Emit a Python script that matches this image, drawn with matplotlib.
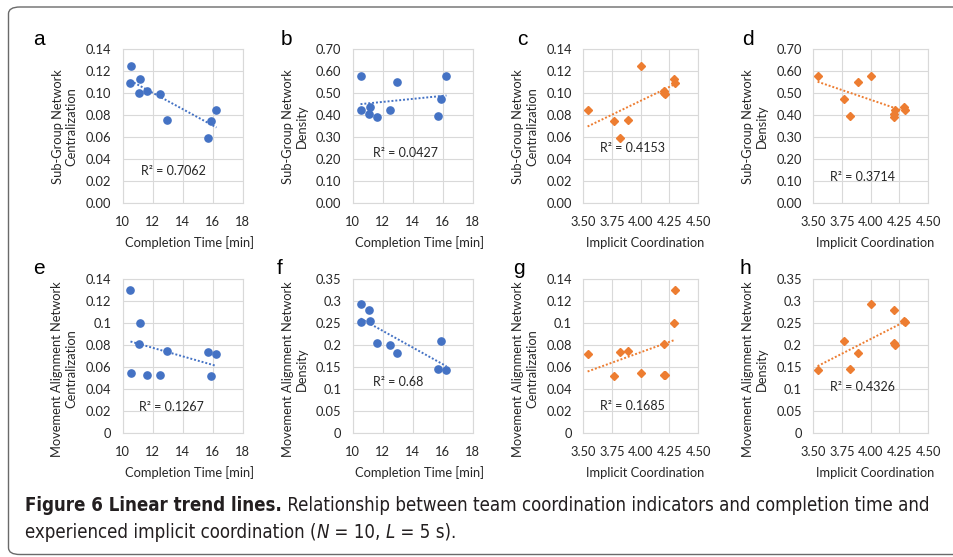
import numpy as np
import matplotlib
matplotlib.use("Agg")
import matplotlib.pyplot as plt
from matplotlib import font_manager
from matplotlib.font_manager import FontProperties
from matplotlib.patches import FancyBboxPatch

W, H = 954, 557

# one value per team, same order in every list
completion_time = [10.52, 10.58, 11.10, 11.18, 11.60, 12.50, 12.95, 15.72, 15.90, 16.25]
implicit_coord = [4.30, 4.00, 4.20, 4.29, 4.20, 4.21, 3.89, 3.82, 3.77, 3.54]
sg_centralization = [0.109, 0.125, 0.100, 0.113, 0.102, 0.099, 0.076, 0.059, 0.075, 0.085]
sg_density = [0.423, 0.580, 0.405, 0.439, 0.393, 0.424, 0.550, 0.397, 0.476, 0.579]
ma_centralization = [0.130, 0.055, 0.081, 0.100, 0.053, 0.053, 0.075, 0.074, 0.052, 0.072]
ma_density = [0.252, 0.295, 0.281, 0.255, 0.206, 0.201, 0.183, 0.145, 0.210, 0.144]

r2_labels = ["R² = 0.7062", "R² = 0.0427", "R² = 0.4153", "R² = 0.3714",
             "R² = 0.1267", "R² = 0.68", "R² = 0.1685", "R² = 0.4326"]

time_ticks = [10, 12, 14, 16, 18]
coord_ticks = [3.50, 3.75, 4.00, 4.25, 4.50]
cent_ticks = [0.00, 0.02, 0.04, 0.06, 0.08, 0.10, 0.12, 0.14]
dens_ticks = [0.00, 0.10, 0.20, 0.30, 0.40, 0.50, 0.60, 0.70]
ma_dens_ticks = [0, 0.05, 0.1, 0.15, 0.2, 0.25, 0.3, 0.35]

BLUE = "#4472C4"
ORANGE = "#ED7D31"
GRID = "#D9D9D9"
TXT = "#262626"
CAP = "#231f20"


def pick_font(names):
    have = {f.name for f in font_manager.fontManager.ttflist}
    for n in names:
        if n in have:
            return n
    return "DejaVu Sans"


def caption_props():
    # prefer a narrow face for the caption, the printed one is condensed
    files = {f.fname.split("/")[-1]: f.fname for f in font_manager.fontManager.ttflist}
    sets = [("LiberationSansNarrow-Regular.ttf", "LiberationSansNarrow-Bold.ttf",
             "LiberationSansNarrow-Italic.ttf"),
            ("DejaVuSansCondensed.ttf", "DejaVuSansCondensed-Bold.ttf",
             "DejaVuSansCondensed-Oblique.ttf")]
    for reg, bld, ita in sets:
        if reg in files and bld in files:
            it = FontProperties(fname=files[ita]) if ita in files else FontProperties(fname=files[reg])
            return FontProperties(fname=files[reg]), FontProperties(fname=files[bld]), it
    fam = pick_font(["Open Sans", "DejaVu Sans"])
    return (FontProperties(family=fam), FontProperties(family=fam, weight="bold"),
            FontProperties(family=fam, style="italic"))


chart_font = pick_font(["Lato", "Open Sans"])
plt.rcParams["font.family"] = [chart_font, "DejaVu Sans"]


def px_rect(l, t, r, b):
    return [l / W, 1 - b / H, (r - l) / W, (b - t) / H]


def draw_panel(fig, rect, x, y, xticks, xfmt, yticks, yfmt, ylabel, ylab_x, ylab_y,
               xlabel, xlab_x, r2, r2_pos, color, marker):
    ax = fig.add_axes(rect)
    x = np.array(x)
    y = np.array(y)
    if marker == "o":
        ax.plot(x, y, "o", color=color, markersize=5.2, zorder=3)
    else:
        ax.plot(x, y, "D", color=color, markersize=4.4, zorder=3)
    k, b = np.polyfit(x, y, 1)
    xs = np.array([x.min(), x.max()])
    ax.plot(xs, k * xs + b, color=color, lw=1.4, linestyle=(0, (1, 1)), zorder=2)

    ax.set_xlim(xticks[0], xticks[-1])
    ax.set_ylim(yticks[0], yticks[-1])
    ax.set_xticks(xticks)
    ax.set_xticklabels([xfmt(v) for v in xticks])
    ax.set_yticks(yticks)
    ax.set_yticklabels([yfmt(v) for v in yticks])
    ax.tick_params(length=0, labelsize=9.3, labelcolor=TXT)
    ax.tick_params(axis="y", pad=8)
    ax.tick_params(axis="x", pad=9)
    ax.grid(True, color=GRID, lw=0.8)
    ax.set_axisbelow(True)
    for s in ax.spines.values():
        s.set_color(GRID)
        s.set_linewidth(0.8)

    ax.text(ylab_x, ylab_y, ylabel, transform=ax.transAxes, rotation=90,
            ha="center", va="center", multialignment="center", fontsize=9.3,
            color=TXT, linespacing=1.2)
    ax.text(xlab_x, -0.255, xlabel, transform=ax.transAxes, ha="center", va="center",
            fontsize=9.3, color=TXT)
    ax.text(r2_pos[0], r2_pos[1], r2, transform=ax.transAxes, ha="center", va="center",
            fontsize=9, color=TXT)
    return ax


def fmt2(v):
    return f"{v:.2f}"


def fmt_time(v):
    return f"{v:d}"


def fmt_gen(v):
    return f"{v:g}"


def text_run(fig, r, x0, y, pieces, size):
    # lay out pieces of text one after another on a baseline, in pixels
    x = x0
    out = []
    for s, fp in pieces:
        t = fig.text(x / W, 1 - y / H, s, fontproperties=fp, va="baseline", color=CAP)
        t.set_fontsize(size)
        x = t.get_window_extent(r).x1
        out.append(t)
    return x, out


def main():
    fig = plt.figure(figsize=(W / 100, H / 100), dpi=100)

    # rounded frame around the figure, running off the right edge
    frame = FancyBboxPatch((8.5 / W, 2.5 / H), (W + 20) / W, (H - 9.5) / H,
                           boxstyle="round,pad=0,rounding_size=0.012",
                           transform=fig.transFigure, fill=False,
                           edgecolor="#6a6a6a", lw=1.0)
    fig.patches.append(frame)

    top = (49.3, 203.3)
    bot = (279.3, 433.3)
    cols = [(122.7, 242.7), (352.7, 472.7), (583.0, 698.3), (813.0, 928.3)]

    sg_c = "Sub-Group Network\nCentralization"
    sg_d = "Sub-Group Network\nDensity"
    ma_c = "Movement Alignment Network\nCentralization"
    ma_d = "Movement Alignment Network\nDensity"
    t_lab = "Completion Time [min]"
    c_lab = "Implicit Coordination"

    panels = [
        (cols[0], top, completion_time, sg_centralization, time_ticks, fmt_time, cent_ticks, fmt2,
         sg_c, -0.485, 0.5, t_lab, 0.56, r2_labels[0], (0.42, 0.21), BLUE, "o"),
        (cols[1], top, completion_time, sg_density, time_ticks, fmt_time, dens_ticks, fmt2,
         sg_d, -0.485, 0.5, t_lab, 0.56, r2_labels[1], (0.44, 0.325), BLUE, "o"),
        (cols[2], top, implicit_coord, sg_centralization, coord_ticks, fmt2, cent_ticks, fmt2,
         sg_c, -0.503, 0.5, c_lab, 0.535, r2_labels[2], (0.43, 0.357), ORANGE, "D"),
        (cols[3], top, implicit_coord, sg_density, coord_ticks, fmt2, dens_ticks, fmt2,
         sg_d, -0.50, 0.5, c_lab, 0.535, r2_labels[3], (0.43, 0.173), ORANGE, "D"),
        (cols[0], bot, completion_time, ma_centralization, time_ticks, fmt_time, cent_ticks, fmt_gen,
         ma_c, -0.485, 0.417, t_lab, 0.56, r2_labels[4], (0.41, 0.173), BLUE, "o"),
        (cols[1], bot, completion_time, ma_density, time_ticks, fmt_time, ma_dens_ticks, fmt_gen,
         ma_d, -0.485, 0.417, t_lab, 0.56, r2_labels[5], (0.38, 0.33), BLUE, "o"),
        (cols[2], bot, implicit_coord, ma_centralization, coord_ticks, fmt2, cent_ticks, fmt_gen,
         ma_c, -0.503, 0.417, c_lab, 0.535, r2_labels[6], (0.43, 0.177), ORANGE, "D"),
        (cols[3], bot, implicit_coord, ma_density, coord_ticks, fmt2, ma_dens_ticks, fmt_gen,
         ma_d, -0.50, 0.417, c_lab, 0.535, r2_labels[7], (0.43, 0.30), ORANGE, "D"),
    ]
    for (lr, tb, x, y, xt, xf, yt, yf, yl, ylx, yly, xl, xlx, r2, r2p, col, mk) in panels:
        draw_panel(fig, px_rect(lr[0], tb[0], lr[1], tb[1]), x, y, xt, xf, yt, yf,
                   yl, ylx, yly, xl, xlx, r2, r2p, col, mk)

    letters = [("a", 33, 45), ("b", 281, 45), ("c", 517, 45), ("d", 742, 45),
               ("e", 33, 274), ("f", 277, 274), ("g", 513, 274), ("h", 740, 274)]
    for s, lx, ly in letters:
        fig.text(lx / W, 1 - ly / H, s, fontsize=15, family=["Liberation Sans", "DejaVu Sans"],
                 ha="left", va="baseline", color="black")

    # caption: bold lead-in, regular text, italic N and L
    reg_fp, bold_fp, it_fp = caption_props()
    r = fig.canvas.get_renderer()
    line1 = [("Figure 6 Linear trend lines.", bold_fp),
             (" Relationship between team coordination indicators and completion time and", reg_fp)]
    line2 = [("experienced implicit coordination (", reg_fp), ("N", it_fp), (" = 10, ", reg_fp),
             ("L", it_fp), (" = 5 s).", reg_fp)]
    # fit the first line to the width it has in the printed figure
    end, tmp = text_run(fig, r, 25, 511, line1, 12.5)
    size = 12.5 * (935 - 25) / (end - 25)
    for t in tmp:
        t.remove()
    text_run(fig, r, 25, 511, line1, size)
    text_run(fig, r, 25, 538, line2, size)

    fig.savefig("out.png", dpi=100)


if __name__ == "__main__":
    main()
